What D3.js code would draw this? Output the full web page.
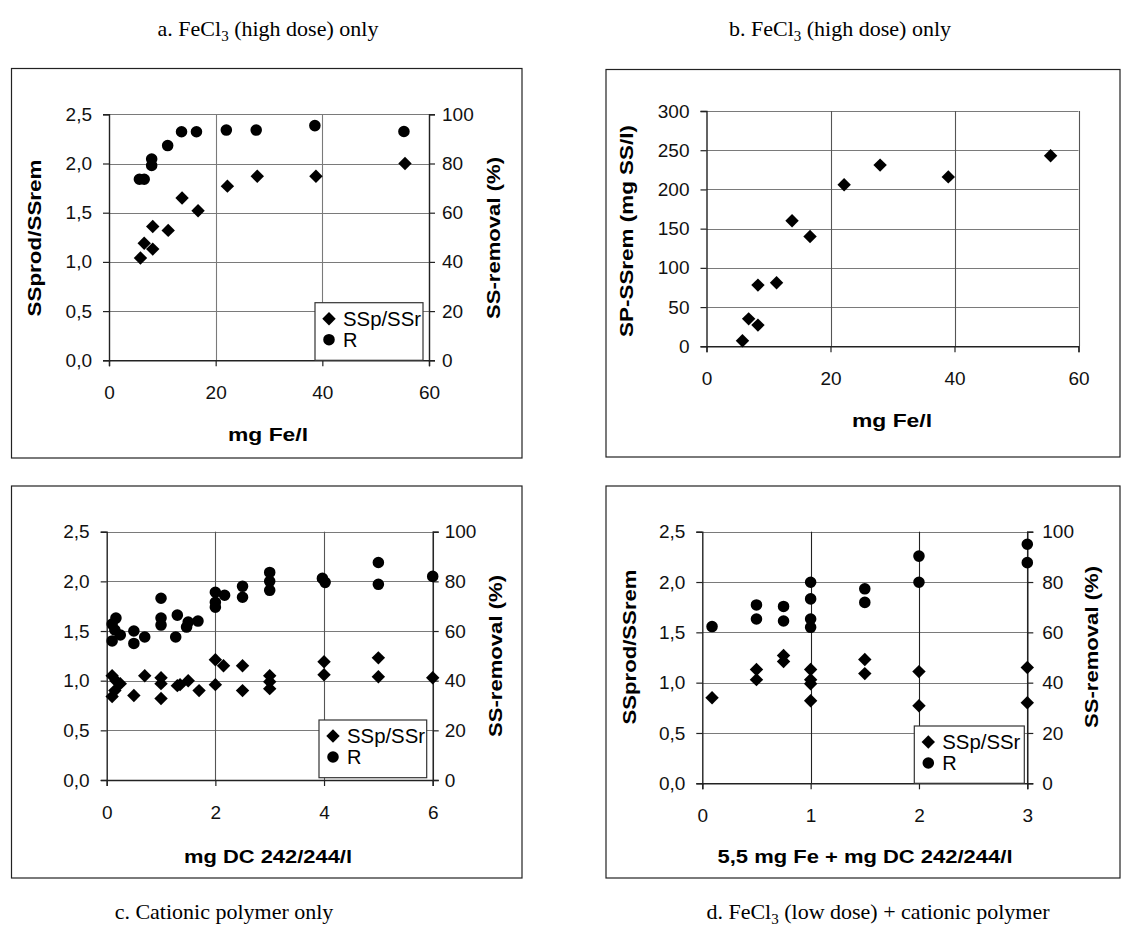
<!DOCTYPE html>
<html><head><meta charset="utf-8">
<script src="https://cdn.jsdelivr.net/npm/d3@7"></script>
<style>
body{margin:0;background:#fff;}
svg{display:block;}
</style></head><body>
<svg id="chart" width="1136" height="935"></svg>
<script>
// ---------- DATA ----------
// Panel a: FeCl3 high dose
const aFeRatio   = [5.9, 6.6, 8.2, 8.2, 11.1, 13.7, 16.7, 22.2, 27.8, 38.8, 55.5];
const aRatio     = [1.04, 1.19, 1.13, 1.36, 1.32, 1.65, 1.52, 1.77, 1.87, 1.87, 2.00];
const aFeRemoval = [5.7, 6.6, 8.0, 8.0, 11.0, 13.6, 16.4, 22.0, 27.6, 38.6, 55.3];
const aRemoval   = [73.6, 73.6, 81.8, 79.2, 87.3, 92.9, 92.9, 93.6, 93.6, 95.4, 93.0];
// Panel b: SP - SSrem
const bFe = [5.8, 6.8, 8.3, 8.3, 11.3, 13.8, 16.7, 22.2, 28.0, 39.0, 55.5];
const bSP = [7, 35, 27, 78, 81, 160, 140, 206, 231, 216, 243];
// Panel c: cationic polymer only
const cDoseRatio = [0.1, 0.17, 0.25, 0.15, 0.1, 0.5, 0.7, 1, 1, 1, 1.3, 1.35, 1.5, 1.7, 2, 2, 2.15, 2.5, 2.5, 3, 3, 3, 4, 4, 5, 5, 6];
const cRatio     = [1.05, 1.0, 0.97, 0.9, 0.84, 0.85, 1.05, 1.03, 0.97, 0.82, 0.95, 0.96, 1.0, 0.9, 1.21, 0.96, 1.15, 1.15, 0.9, 1.05, 0.99, 0.92, 1.19, 1.06, 1.23, 1.04, 1.03];
const cDoseRemoval = [0.1, 0.17, 0.1, 0.25, 0.15, 0.5, 0.5, 0.7, 1, 1, 1, 1.3, 1.27, 1.5, 1.47, 1.68, 2, 2, 2, 2.17, 2.5, 2.5, 3, 3, 3, 3.97, 4.02, 5, 5, 6];
const cRemoval     = [62.8, 65.2, 56, 58.4, 60.4, 60, 55, 57.6, 73.2, 65.2, 62.4, 66.4, 57.6, 63.6, 61.6, 64, 75.6, 71.6, 69.6, 74.4, 78, 73.6, 83.6, 80, 76.4, 81.2, 79.6, 87.6, 78.8, 82];
// Panel d: FeCl3 low dose + cationic polymer
const dDoseRatio = [0.09, 0.5, 0.5, 0.75, 0.75, 1, 1, 1, 1, 1.5, 1.5, 2, 2, 3, 3];
const dRatio     = [0.85, 1.13, 1.03, 1.27, 1.21, 1.13, 1.03, 0.99, 0.82, 1.23, 1.09, 1.11, 0.77, 1.15, 0.80];
const dDoseRemoval = [0.09, 0.5, 0.5, 0.75, 0.75, 1, 1, 1, 1, 1.5, 1.5, 2, 2, 3, 3];
const dRemoval     = [62.3, 70.9, 65.3, 70.3, 64.5, 79.9, 73.3, 65.3, 62.0, 77.3, 71.9, 90.3, 79.9, 95.0, 87.7];
// Ticks
const ratioTicks   = [0, 0.5, 1.0, 1.5, 2.0, 2.5];
const removalTicks = [0, 20, 40, 60, 80, 100];
const spTicks      = [0, 50, 100, 150, 200, 250, 300];
const feTicks      = [0, 20, 40, 60];
const dcTicks      = [0, 2, 4, 6];
const dTicks       = [0, 1, 2, 3];
const legendLabels = ["SSp/SSr", "R"];

// ---------- DRAWING ----------
const svg = d3.select('#chart');
const SANS = '"Liberation Sans", Arial, sans-serif';
const SERIF = '"Liberation Serif", "Times New Roman", serif';
const commaFmt = v => d3.format('.1f')(v).replace('.', ',');
const diamond = d3.symbol().type(d3.symbolSquare).size(90)();
const circle = d3.symbol().type(d3.symbolCircle).size(105)();

function zip(xs, ys) { return xs.map((x, i) => ({x, y: ys[i]})); }

function styleAxis(a) {
  a.select('.domain').attr('stroke', '#222').attr('stroke-width', 1.4);
  a.selectAll('.tick line').attr('stroke', '#222').attr('stroke-width', 1.2);
  a.selectAll('.tick text').attr('font-family', SANS).attr('font-size', 19).attr('fill', '#111');
}

function drawPanel(p) {
  const g = svg.append('g');
  g.append('rect').attr('x', p.frame[0]).attr('y', p.frame[1])
    .attr('width', p.frame[2] - p.frame[0]).attr('height', p.frame[3] - p.frame[1])
    .attr('fill', 'none').attr('stroke', '#222').attr('stroke-width', 1.2);

  const x = d3.scaleLinear().domain(p.xDomain).range([p.left, p.right]);
  const y = d3.scaleLinear().domain(p.yDomain).range([p.bottom, p.top]);

  // horizontal gridlines
  g.selectAll('.hg').data(p.yTicks.slice(1)).join('line')
    .attr('x1', p.left).attr('x2', p.right)
    .attr('y1', d => Math.round(y(d)) + 0.5).attr('y2', d => Math.round(y(d)) + 0.5)
    .attr('stroke', '#7a7a7a').attr('stroke-width', 1.2);
  // vertical gridlines
  g.selectAll('.vg').data(p.xTicks.slice(1)).join('line')
    .attr('x1', d => Math.round(x(d)) + 0.5).attr('x2', d => Math.round(x(d)) + 0.5)
    .attr('y1', p.top).attr('y2', p.bottom)
    .attr('stroke', p.vgColor).attr('stroke-width', 1.1);

  // axes
  const gx = g.append('g').attr('transform', `translate(0,${p.bottom})`)
    .call(d3.axisBottom(x).tickValues(p.xTicks).tickSize(6).tickPadding(10).tickFormat(d3.format('d')));
  const gy = g.append('g').attr('transform', `translate(${p.left},0)`)
    .call(d3.axisLeft(y).tickValues(p.yTicks).tickSize(6).tickPadding(11).tickFormat(p.yFmt));
  styleAxis(gx); styleAxis(gy);
  gx.selectAll('.tick text').attr('dy', '1.2em');

  let y2 = null;
  if (p.y2Domain) {
    y2 = d3.scaleLinear().domain(p.y2Domain).range([p.bottom, p.top]);
    const gy2 = g.append('g').attr('transform', `translate(${p.right},0)`)
      .call(d3.axisRight(y2).tickValues(removalTicks).tickSize(6).tickPadding(p.y2Pad).tickFormat(d3.format('d')));
    styleAxis(gy2);
    g.append('text').attr('transform', `translate(${p.y2TitleX},${p.y2TitleY}) rotate(-90)`)
      .attr('text-anchor', 'middle').attr('dominant-baseline', 'central')
      .attr('font-family', SANS).attr('font-weight', 'bold').attr('font-size', 18)
      .attr('textLength', 162).attr('lengthAdjust', 'spacingAndGlyphs')
      .text('SS-removal (%)');
  }

  // axis titles
  g.append('text').attr('x', p.xTitleX).attr('y', p.xTitleY)
    .attr('text-anchor', 'middle').attr('font-family', SANS).attr('font-weight', 'bold').attr('font-size', 18)
    .attr('textLength', p.xTitleLen).attr('lengthAdjust', 'spacingAndGlyphs')
    .text(p.xTitle);
  if (p.yTitle) {
    g.append('text').attr('transform', `translate(${p.yTitleX},${p.yTitleY}) rotate(-90)`)
      .attr('text-anchor', 'middle').attr('dominant-baseline', 'central')
      .attr('font-family', SANS).attr('font-weight', 'bold').attr('font-size', 18)
      .attr('textLength', p.yTitleLen).attr('lengthAdjust', 'spacingAndGlyphs')
      .text(p.yTitle);
  }

  // points
  g.selectAll('.dm').data(zip(p.ratioX, p.ratioY)).join('path')
    .attr('d', diamond)
    .attr('transform', d => `translate(${x(d.x)},${y(d.y)}) rotate(45)`)
    .attr('fill', '#000');
  if (p.remX) {
    g.selectAll('.ci').data(zip(p.remX, p.remY)).join('path')
      .attr('d', circle)
      .attr('transform', d => `translate(${x(d.x)},${y2(d.y)})`)
      .attr('fill', '#000');
  }

  if (p.legend) {
    const L = p.legend;
    g.append('rect').attr('x', L[0]).attr('y', L[1]).attr('width', L[2] - L[0]).attr('height', L[3] - L[1])
      .attr('fill', '#fff').attr('stroke', '#333').attr('stroke-width', 1.2);
    const r1 = L[1] + 16, r2 = L[1] + 37;
    g.append('path').attr('d', diamond).attr('transform', `translate(${L[0] + 14},${r1}) rotate(45)`).attr('fill', '#000');
    g.append('path').attr('d', circle).attr('transform', `translate(${L[0] + 14},${r2})`).attr('fill', '#000');
    g.append('text').attr('x', L[0] + 28).attr('y', r1).attr('dominant-baseline', 'central')
      .attr('font-family', SANS).attr('font-size', 20)
      .attr('textLength', 78).attr('lengthAdjust', 'spacingAndGlyphs').text(legendLabels[0]);
    g.append('text').attr('x', L[0] + 28).attr('y', r2).attr('dominant-baseline', 'central')
      .attr('font-family', SANS).attr('font-size', 20).text(legendLabels[1]);
  }
}

drawPanel({
  frame: [11.5, 68.5, 522, 458],
  left: 109, right: 429, top: 114.3, bottom: 360.3,
  xDomain: [0, 60], yDomain: [0, 2.5], y2Domain: [0, 100], y2Pad: 7,
  xTicks: feTicks, yTicks: ratioTicks, yFmt: commaFmt, vgColor: '#7a7a7a',
  ratioX: aFeRatio, ratioY: aRatio, remX: aFeRemoval, remY: aRemoval,
  xTitle: 'mg Fe/l', xTitleX: 268, xTitleY: 441, xTitleLen: 80,
  yTitle: 'SSprod/SSrem', yTitleX: 35, yTitleY: 238, yTitleLen: 157,
  y2TitleX: 494, y2TitleY: 238,
  legend: [315, 302.7, 423, 360.3]
});
drawPanel({
  frame: [606, 69.5, 1120, 457],
  left: 706.5, right: 1078.5, top: 111, bottom: 346.3,
  xDomain: [0, 60], yDomain: [0, 300],
  xTicks: feTicks, yTicks: spTicks, yFmt: d3.format('d'), vgColor: '#555',
  ratioX: bFe, ratioY: bSP,
  xTitle: 'mg Fe/l', xTitleX: 892, xTitleY: 427, xTitleLen: 80,
  yTitle: 'SP-SSrem (mg SS/l)', yTitleX: 627, yTitleY: 231, yTitleLen: 212
});
drawPanel({
  frame: [11.5, 486, 522, 878],
  left: 106.7, right: 432.7, top: 531.7, bottom: 780,
  xDomain: [0, 6], yDomain: [0, 2.5], y2Domain: [0, 100], y2Pad: 6,
  xTicks: dcTicks, yTicks: ratioTicks, yFmt: commaFmt, vgColor: '#555',
  ratioX: cDoseRatio, ratioY: cRatio, remX: cDoseRemoval, remY: cRemoval,
  xTitle: 'mg DC 242/244/l', xTitleX: 268, xTitleY: 863, xTitleLen: 168,
  yTitle: null,
  y2TitleX: 496, y2TitleY: 656,
  legend: [319, 720, 426.7, 777.7]
});
drawPanel({
  frame: [606, 486, 1120, 878],
  left: 702.3, right: 1027.3, top: 531.7, bottom: 783.3,
  xDomain: [0, 3], yDomain: [0, 2.5], y2Domain: [0, 100], y2Pad: 9,
  xTicks: dTicks, yTicks: ratioTicks, yFmt: commaFmt, vgColor: '#222',
  ratioX: dDoseRatio, ratioY: dRatio, remX: dDoseRemoval, remY: dRemoval,
  xTitle: '5,5 mg Fe + mg DC 242/244/l', xTitleX: 865, xTitleY: 863, xTitleLen: 295,
  yTitle: 'SSprod/SSrem', yTitleX: 630, yTitleY: 647, yTitleLen: 155,
  y2TitleX: 1092, y2TitleY: 647,
  legend: [914.3, 726, 1024.3, 783.3]
});

// panel captions
function caption(xc, yb, len, parts) {
  const t = svg.append('text').attr('x', xc).attr('y', yb).attr('text-anchor', 'middle')
    .attr('font-family', SERIF).attr('font-size', 22).attr('fill', '#000');
  parts.forEach(pt => {
    const s = t.append('tspan').text(pt.t);
    if (pt.sub) s.attr('font-size', 15).attr('dy', 5);
    if (pt.after) s.attr('dy', -5);
  });
}
caption(268, 36, 0, [{t: 'a. FeCl'}, {t: '3', sub: true}, {t: ' (high dose) only', after: true}]);
caption(840, 36, 0, [{t: 'b. FeCl'}, {t: '3', sub: true}, {t: ' (high dose) only', after: true}]);
caption(224, 919, 0, [{t: 'c. Cationic polymer only'}]);
caption(878, 919, 0, [{t: 'd. FeCl'}, {t: '3', sub: true}, {t: ' (low dose) + cationic polymer', after: true}]);
</script>
</body></html>
